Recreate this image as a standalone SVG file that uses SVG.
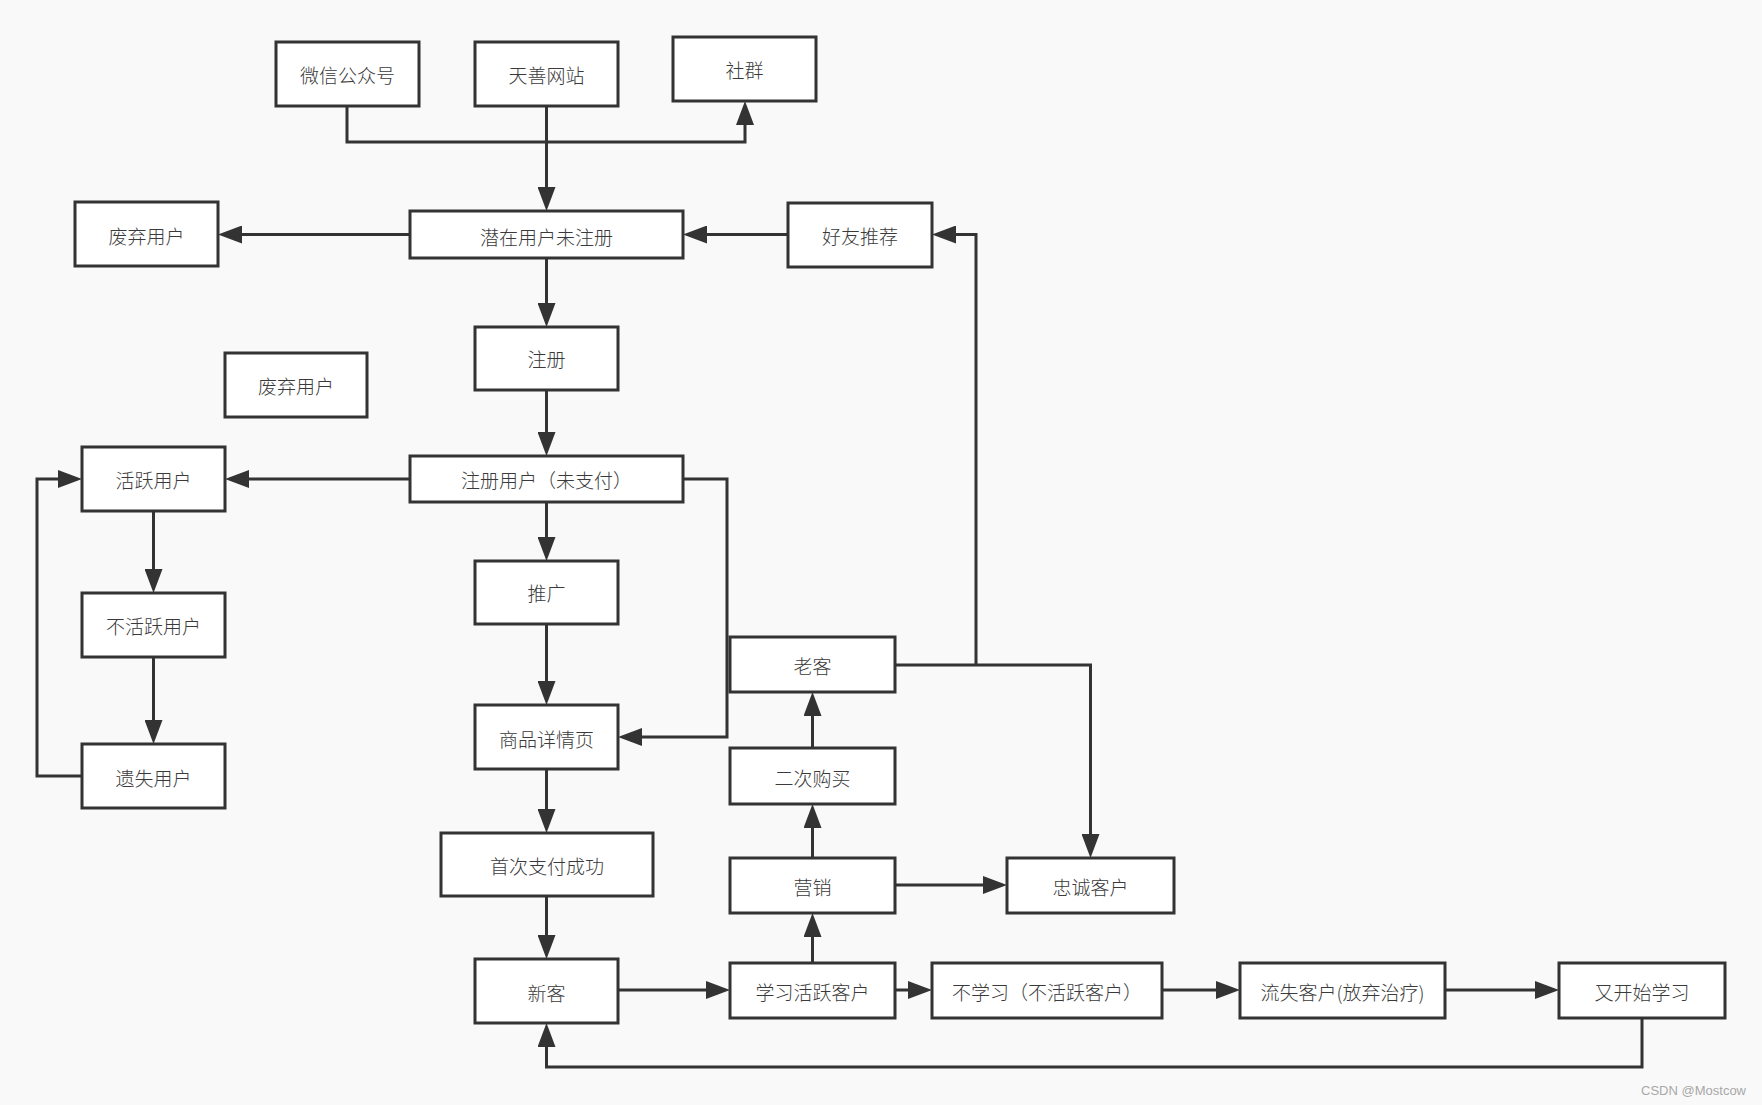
<svg xmlns="http://www.w3.org/2000/svg" width="1762" height="1105" viewBox="0 0 1762 1105">
<style>
.n rect{fill:#ffffff;stroke:#333333;stroke-width:3}
.n text{font-family:"Noto Sans CJK SC","Noto Sans",sans-serif;font-size:19px;font-weight:300;fill:#3a3a3a;text-anchor:middle;dominant-baseline:central}
.c path{fill:none;stroke:#333333;stroke-width:3;marker-end:url(#ah)}
.wm{font-family:"Liberation Sans",Arial,sans-serif;font-size:13px;fill:#a8a8a8;text-anchor:end}
</style>
<defs>
<marker id="ah" markerUnits="userSpaceOnUse" markerWidth="24" markerHeight="18" refX="18" refY="9" orient="auto">
<path d="M0,0 L24,9 L0,18 z" fill="#333333"/>
</marker>
</defs>
<rect x="0" y="0" width="1762" height="1105" fill="#f9f9f9"/>
<g class="c" id="connectors">
<path d="M347,106 V142 H745 V107"/>
<path d="M546.5,106 V205"/>
<path d="M410,234.5 H224"/>
<path d="M788,234.5 H689"/>
<path d="M546.5,258 V321"/>
<path d="M546.5,390 V450"/>
<path d="M410,479 H231"/>
<path d="M546.5,502 V555"/>
<path d="M683,479 H727 V737 H624"/>
<path d="M546.5,624 V699"/>
<path d="M546.5,769 V827"/>
<path d="M546.5,896 V953"/>
<path d="M153.5,511 V587"/>
<path d="M153.5,657 V738"/>
<path d="M82,776 H37 V479 H76"/>
<path d="M618,990 H724"/>
<path d="M895,990 H926"/>
<path d="M1162,990 H1234"/>
<path d="M1445,990 H1553"/>
<path d="M1642,1018 V1067 H546.5 V1029"/>
<path d="M812.5,963 V919"/>
<path d="M812.5,858 V810"/>
<path d="M812.5,748 V698"/>
<path d="M895,885 H1001"/>
<path d="M895,665 H1090.5 V852"/>
<path d="M976,665 V234.5 H938"/>
</g>
<g class="n" id="wechat"><rect x="276" y="42" width="143" height="64"/><text x="347.5" y="74">微信公众号</text></g>
<g class="n" id="website"><rect x="475" y="42" width="143" height="64"/><text x="546.5" y="74">天善网站</text></g>
<g class="n" id="community"><rect x="673" y="37" width="143" height="64"/><text x="744.5" y="69">社群</text></g>
<g class="n" id="abandon1"><rect x="75" y="202" width="143" height="64"/><text x="146.5" y="235">废弃用户</text></g>
<g class="n" id="potential"><rect x="410" y="211" width="273" height="47"/><text x="546.5" y="236">潜在用户未注册</text></g>
<g class="n" id="referral"><rect x="788" y="203" width="144" height="64"/><text x="860" y="235">好友推荐</text></g>
<g class="n" id="register"><rect x="475" y="327" width="143" height="63"/><text x="546.5" y="358">注册</text></g>
<g class="n" id="abandon2"><rect x="225" y="353" width="142" height="64"/><text x="296" y="385">废弃用户</text></g>
<g class="n" id="active"><rect x="82" y="447" width="143" height="64"/><text x="153.5" y="479">活跃用户</text></g>
<g class="n" id="registered"><rect x="410" y="456" width="273" height="46"/><text x="546.5" y="479">注册用户（未支付）</text></g>
<g class="n" id="promote"><rect x="475" y="561" width="143" height="63"/><text x="546.5" y="592">推广</text></g>
<g class="n" id="inactive"><rect x="82" y="593" width="143" height="64"/><text x="153.5" y="625">不活跃用户</text></g>
<g class="n" id="oldcustomer"><rect x="730" y="637" width="165" height="55"/><text x="812.5" y="665">老客</text></g>
<g class="n" id="detail"><rect x="475" y="705" width="143" height="64"/><text x="546.5" y="738">商品详情页</text></g>
<g class="n" id="lost"><rect x="82" y="744" width="143" height="64"/><text x="153.5" y="777">遗失用户</text></g>
<g class="n" id="rebuy"><rect x="730" y="748" width="165" height="56"/><text x="812.5" y="777">二次购买</text></g>
<g class="n" id="firstpay"><rect x="441" y="833" width="212" height="63"/><text x="547" y="865">首次支付成功</text></g>
<g class="n" id="marketing"><rect x="730" y="858" width="165" height="55"/><text x="812.5" y="886">营销</text></g>
<g class="n" id="loyal"><rect x="1007" y="858" width="167" height="55"/><text x="1090.5" y="886">忠诚客户</text></g>
<g class="n" id="newcustomer"><rect x="475" y="959" width="143" height="64"/><text x="546.5" y="992">新客</text></g>
<g class="n" id="learnactive"><rect x="730" y="963" width="165" height="55"/><text x="812.5" y="991">学习活跃客户</text></g>
<g class="n" id="notlearn"><rect x="932" y="963" width="230" height="55"/><text x="1047" y="991">不学习（不活跃客户）</text></g>
<g class="n" id="churn"><rect x="1240" y="963" width="205" height="55"/><text x="1342.5" y="991">流失客户(放弃治疗)</text></g>
<g class="n" id="restart"><rect x="1559" y="963" width="166" height="55"/><text x="1642" y="991">又开始学习</text></g>
<text class="wm" x="1746" y="1095">CSDN @Mostcow</text>
</svg>
